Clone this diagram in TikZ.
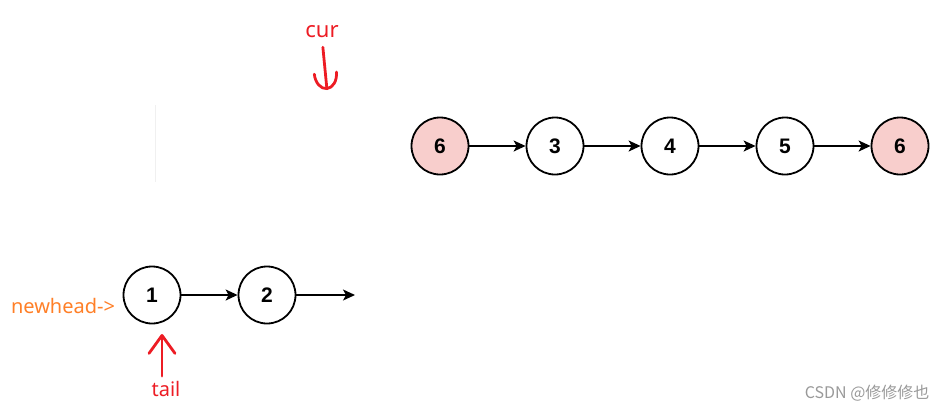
\documentclass[tikz,border=0pt]{standalone}
\usepackage{fontspec}
\setmainfont{Liberation Sans}
\newfontfamily\notefont{Noto Sans}
\newfontfamily\cjkfont{Noto Sans CJK SC}
\usetikzlibrary{arrows.meta, positioning}

\definecolor{nodepink}{RGB}{248,206,204}
\definecolor{inkred}{RGB}{237,28,36}
\definecolor{inkorange}{RGB}{255,127,39}

\begin{document}
\begin{tikzpicture}[x=1pt, y=-1pt,
        listnode/.style={draw, circle, line width=1.8pt, minimum size=57pt, inner sep=0pt,
                font=\fontsize{21}{21}\selectfont\bfseries},
        link/.style={-{Stealth[length=12pt, width=11pt, inset=3pt]}, line width=1.4pt},
        note/.style={font=\notefont\fontsize{20}{20}\selectfont, inner sep=0pt},
        pen/.style={inkred, line width=2.8pt, line cap=round},
        node distance=115pt, on grid]
        \useasboundingbox (0,0) rectangle (948,413);

        % list after cur
        \node[listnode, fill=nodepink] (first6) at (440,146) {6};
        \node[listnode, right=of first6] (n3) {3};
        \node[listnode, right=of n3] (n4) {4};
        \node[listnode, right=of n4] (n5) {5};
        \node[listnode, fill=nodepink, right=of n5] (last6) {6};

        % new list
        \node[listnode] (n1) at (152,295) {1};
        \node[listnode, right=of n1] (n2) {2};
        \coordinate (cut) at (355,295);

        \foreach \a/\b in {first6/n3, n3/n4, n4/n5, n5/last6, n1/n2, n2/cut}
                \draw[link] (\a) -- (\b);

        \draw[gray!12, line width=0.8pt] (155,105) -- (155,182);

        % pointers
        \node[note, text=inkred, font=\notefont\fontsize{22}{22}\selectfont] (cur) at (322,32) {cur};
        \coordinate (curtip) at (327,90);
        \draw[pen, shorten <=9pt, -{Arc Barb[length=17pt, width=25pt, round]}] (cur.south) -- (curtip);

        \node[note, text=inkorange] (newhead) at (63,306) {newhead->};

        \node[note, text=inkred] (tail) at (166,389) {tail};
        \coordinate (tailtip) at (162,334);
        \draw[pen, shorten <=5pt, -{Straight Barb[length=18pt, width=26pt, round]}] (tail.north -| tailtip) -- (tailtip);

        \node[font=\cjkfont\fontsize{16}{16}\selectfont, text=black!40, anchor=east] (mark) at (933,393) {CSDN @修修修也};
\end{tikzpicture}
\end{document}
